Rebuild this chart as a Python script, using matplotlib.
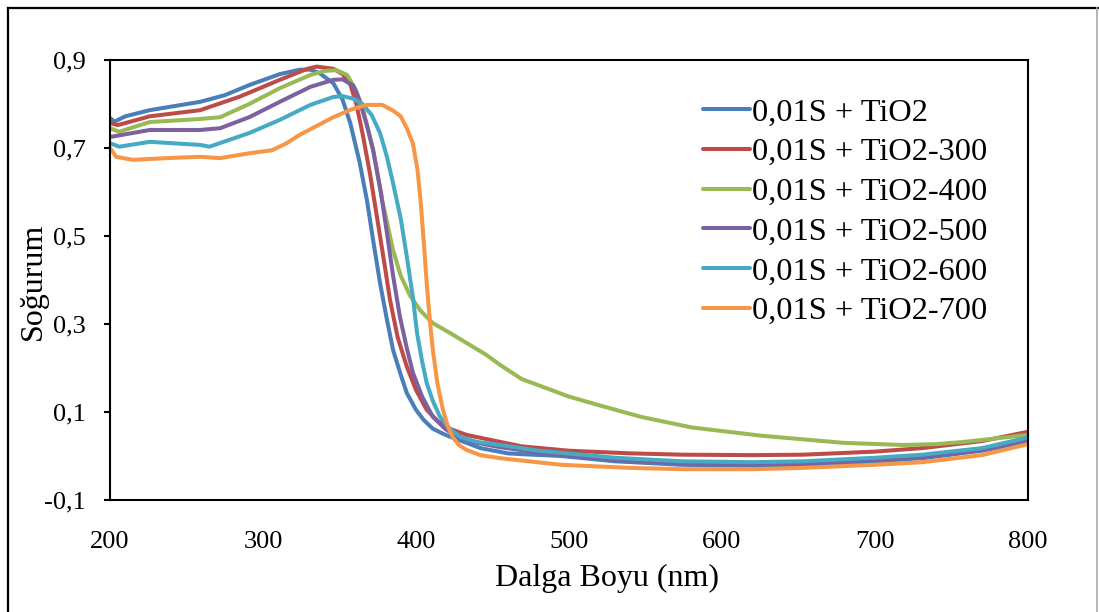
"""
Absorbance spectra of 0,01S + TiO2 samples (Excel-style chart)
"""

import matplotlib
matplotlib.use("Agg")
import matplotlib.pyplot as plt
from matplotlib.lines import Line2D

# wavelength (nm) / absorbance points
WL_TIO2 = [200, 203, 210, 226, 259, 275, 291, 311, 324, 331, 337, 346, 352,
           357, 363, 368, 372, 376.5, 381, 385, 390, 394, 400, 405, 411, 418,
           425, 433, 442, 460, 470, 495, 530, 574, 620, 653, 700, 731, 770, 800]
ABS_TIO2 = [0.768, 0.760, 0.772, 0.786, 0.805, 0.820, 0.843, 0.868, 0.878,
            0.878, 0.870, 0.847, 0.810, 0.757, 0.670, 0.580, 0.490, 0.393,
            0.310, 0.241, 0.185, 0.143, 0.105, 0.082, 0.062, 0.050, 0.040,
            0.030, 0.018, 0.006, 0.004, 0.000, -0.012, -0.020, -0.022, -0.020,
            -0.012, -0.005, 0.012, 0.033]

WL_300 = [200, 205, 226, 259, 285, 311, 329, 335, 346, 352, 357, 361, 365,
          370, 374.5, 379, 383, 388, 394, 400, 407, 414, 422, 433, 455, 469,
          500, 540, 574, 620, 653, 700, 731, 770, 800]
ABS_300 = [0.757, 0.752, 0.772, 0.786, 0.817, 0.855, 0.880, 0.885, 0.880,
           0.868, 0.845, 0.800, 0.734, 0.640, 0.543, 0.445, 0.355, 0.270,
           0.203, 0.150, 0.105, 0.080, 0.062, 0.048, 0.032, 0.022, 0.012,
           0.006, 0.003, 0.002, 0.003, 0.010, 0.018, 0.034, 0.055]

WL_400 = [200, 206, 226, 259, 272, 291, 311, 331, 340, 348, 355, 361, 366,
          372, 378, 385, 390, 396, 403, 411, 422, 433, 445, 455, 469, 500,
          520, 547, 580, 626, 679, 718, 740, 758, 800]
ABS_400 = [0.745, 0.737, 0.759, 0.766, 0.770, 0.800, 0.836, 0.866, 0.875,
           0.877, 0.866, 0.830, 0.780, 0.695, 0.580, 0.468, 0.410, 0.365,
           0.330, 0.302, 0.280, 0.257, 0.232, 0.207, 0.175, 0.135, 0.115,
           0.089, 0.065, 0.046, 0.030, 0.025, 0.027, 0.032, 0.048]

WL_500 = [200, 226, 259, 272, 291, 311, 331, 346, 352, 359, 363, 368, 372,
          377, 381, 385, 389.5, 394, 398, 404, 411, 419, 427, 440, 455, 480,
          530, 574, 620, 653, 700, 731, 770, 800]
ABS_500 = [0.725, 0.741, 0.741, 0.745, 0.770, 0.805, 0.839, 0.855, 0.856,
           0.842, 0.809, 0.750, 0.695, 0.600, 0.507, 0.410, 0.316, 0.245,
           0.189, 0.135, 0.089, 0.062, 0.043, 0.030, 0.020, 0.008, -0.008,
           -0.016, -0.018, -0.017, -0.008, -0.002, 0.014, 0.037]

WL_600 = [200, 206, 226, 259, 265, 291, 311, 331, 346, 352, 359, 365, 371,
          376.5, 381, 385, 390, 394, 398, 400.7, 404, 407, 411, 415.7, 422,
          429, 440, 455, 480, 530, 574, 620, 653, 700, 731, 770, 800]
ABS_600 = [0.711, 0.703, 0.714, 0.707, 0.703, 0.734, 0.764, 0.798, 0.816,
           0.818, 0.812, 0.800, 0.775, 0.734, 0.680, 0.620, 0.540, 0.453,
           0.360, 0.279, 0.215, 0.166, 0.125, 0.089, 0.062, 0.043, 0.032,
           0.025, 0.012, -0.004, -0.012, -0.014, -0.012, -0.004, 0.003,
           0.018, 0.042]

WL_700 = [200, 204, 215, 237, 259, 272, 291, 306, 315, 324, 335, 346, 358,
          368, 378, 385, 390, 394, 398, 401, 403, 405, 407, 409, 411, 414,
          417.6, 421, 424, 428, 433, 442, 455, 495, 540, 574, 620, 653, 700,
          731, 770, 800]
ABS_700 = [0.700, 0.680, 0.673, 0.677, 0.680, 0.677, 0.688, 0.695, 0.710,
           0.730, 0.750, 0.770, 0.788, 0.798, 0.798, 0.785, 0.772, 0.745,
           0.710, 0.650, 0.580, 0.490, 0.393, 0.310, 0.241, 0.165, 0.105,
           0.065, 0.043, 0.025, 0.014, 0.002, -0.005, -0.020, -0.027, -0.030,
           -0.030, -0.027, -0.020, -0.014, 0.002, 0.027]

LABELS = ["0,01S + TiO2", "0,01S + TiO2-300", "0,01S + TiO2-400",
          "0,01S + TiO2-500", "0,01S + TiO2-600", "0,01S + TiO2-700"]
COLORS = ["#4A7EBB", "#BE4B48", "#98B954", "#7D60A0", "#46AAC5", "#F79646"]

X_TICKS = [200, 300, 400, 500, 600, 700, 800]
Y_TICKS = [-0.1, 0.1, 0.3, 0.5, 0.7, 0.9]
Y_TICK_LABELS = ["-0,1", "0,1", "0,3", "0,5", "0,7", "0,9"]


def main():
    plt.rcParams['font.family'] = ['Liberation Serif', 'DejaVu Serif']
    W, H = 1099, 612
    fig = plt.figure(figsize=(W / 100, H / 100), dpi=100)
    ax = fig.add_axes([110 / W, 1 - 500 / H, 918 / W, 440 / H])

    series = [(WL_TIO2, ABS_TIO2), (WL_300, ABS_300), (WL_400, ABS_400),
              (WL_500, ABS_500), (WL_600, ABS_600), (WL_700, ABS_700)]
    for (wl, ab), label, color in zip(series, LABELS, COLORS):
        ax.plot(wl, ab, color=color, lw=2.9, label=label,
                solid_capstyle='round', solid_joinstyle='round')

    ax.set_xlim(200, 800)
    ax.set_ylim(-0.1, 0.9)
    ax.set_xticks(X_TICKS)
    ax.set_yticks(Y_TICKS)
    ax.set_yticklabels(Y_TICK_LABELS)
    ax.tick_params(axis='x', length=0, pad=22, labelsize=19)
    ax.tick_params(axis='y', direction='out', length=4.5, width=1.5,
                   pad=13, labelsize=19)
    for spine in ax.spines.values():
        spine.set_linewidth(1.5)
        spine.set_color('black')

    fig.text(33 / W, 1 - 281 / H, "Soğurum", rotation=90, fontsize=23,
             ha='center', va='center')
    fig.text(607 / W, 1 - 578 / H, "Dalga Boyu (nm)", fontsize=23,
             ha='center', va='center')

    ax.legend(loc='center left', bbox_to_anchor=(703 / W, 1 - 212 / H),
              bbox_transform=fig.transFigure, frameon=False, fontsize=23.3,
              handlelength=1.45, handletextpad=0.06, labelspacing=0.31,
              borderpad=0, borderaxespad=0)

    # outer chart border
    fig.add_artist(Line2D([8 / W, 8 / W], [0, 1 - 8 / H], color='black',
                          lw=1.6, transform=fig.transFigure))
    fig.add_artist(Line2D([8 / W, 1], [1 - 8 / H, 1 - 8 / H], color='black',
                          lw=1.6, transform=fig.transFigure))
    fig.add_artist(Line2D([1097 / W, 1097 / W], [0, 1 - 8 / H],
                          color='#aaaaaa', lw=1.2, transform=fig.transFigure))

    fig.savefig("out.png", dpi=100)
    plt.close(fig)


if __name__ == '__main__':
    main()
